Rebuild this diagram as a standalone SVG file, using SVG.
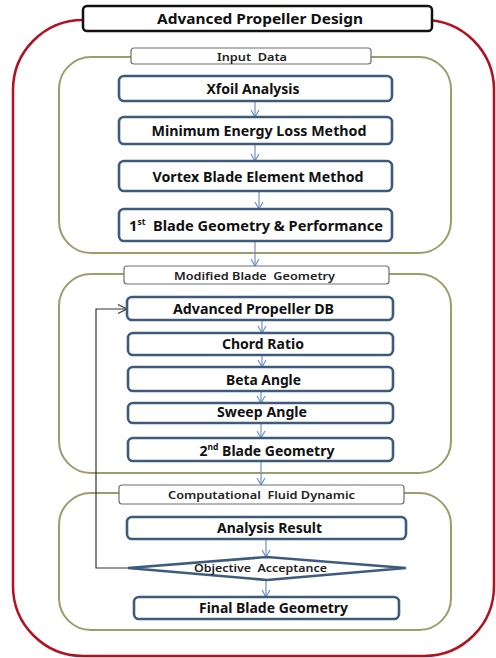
<svg xmlns="http://www.w3.org/2000/svg" width="496" height="658" viewBox="0 0 496 658">
<defs>
<style>
.outer{fill:none;stroke:#b3111f;stroke-width:2.5}
.group{fill:none;stroke:#9d9d6b;stroke-width:2}
.lbl{fill:#fff;stroke:#6e6e6e;stroke-width:1.2}
.title{fill:#fff;stroke:#111;stroke-width:2.5}
.node{fill:#fff;stroke:#3e5b7d;stroke-width:2.6}
.t{font-family:"Noto Sans","Liberation Sans",sans-serif;font-weight:bold;fill:#111;text-anchor:middle;dominant-baseline:central}
.tl{font-family:"Noto Sans","Liberation Sans",sans-serif;font-weight:600;fill:#222;text-anchor:middle;dominant-baseline:central;white-space:pre}
.arr{fill:none;stroke:#6f93c0;stroke-width:1.2}
.fb{fill:none;stroke:#333;stroke-width:1.2}
</style>
<marker id="ah" markerWidth="10" markerHeight="10" refX="8" refY="5" orient="auto" markerUnits="userSpaceOnUse">
<path d="M1,1 L8,5 L1,9" fill="none" stroke="#6f93c0" stroke-width="1.2"/>
</marker>
<marker id="ahk" markerWidth="12" markerHeight="12" refX="10" refY="6" orient="auto" markerUnits="userSpaceOnUse">
<path d="M1,1.5 L10,6 L1,10.5" fill="none" stroke="#333" stroke-width="1.2"/>
</marker>
</defs>

<g id="frame">
<rect class="outer" x="13" y="20" width="481" height="636" rx="70" ry="70"/>
</g>

<g id="groups">
<rect class="group" x="59" y="57" width="392" height="196" rx="32" ry="32"/>
<rect class="group" x="59" y="274" width="392" height="199" rx="32" ry="32"/>
<rect class="group" x="59" y="493" width="392" height="137" rx="32" ry="32"/>
</g>

<g id="connectors">
<line class="arr" x1="255" y1="101" x2="255" y2="117" marker-end="url(#ah)"/>
<line class="arr" x1="255" y1="144" x2="255" y2="161" marker-end="url(#ah)"/>
<line class="arr" x1="259" y1="191" x2="259" y2="209" marker-end="url(#ah)"/>
<line class="arr" x1="255" y1="241" x2="255" y2="266" marker-end="url(#ah)"/>
<line class="arr" x1="262" y1="320" x2="262" y2="333" marker-end="url(#ah)"/>
<line class="arr" x1="262" y1="355" x2="262" y2="367" marker-end="url(#ah)"/>
<line class="arr" x1="261" y1="391" x2="261" y2="403" marker-end="url(#ah)"/>
<line class="arr" x1="261" y1="423" x2="261" y2="438" marker-end="url(#ah)"/>
<line class="arr" x1="261" y1="461" x2="261" y2="485" marker-end="url(#ah)"/>
<line class="arr" x1="266" y1="539" x2="266" y2="557" marker-end="url(#ah)"/>
<line class="arr" x1="266" y1="580" x2="266" y2="597" marker-end="url(#ah)"/>
<path class="fb" d="M128,568 H96 V309 H127" marker-end="url(#ahk)"/>
</g>

<g id="title">
<rect class="title" x="83" y="6" width="349" height="25" rx="4"/>
<text class="t" x="260" y="18" font-size="14" textLength="206" lengthAdjust="spacingAndGlyphs">Advanced Propeller Design</text>
</g>

<g id="input-data">
<rect class="lbl" x="131" y="48" width="240" height="16" rx="3"/>
<text class="tl" x="252" y="56.5" font-size="11" textLength="70" lengthAdjust="spacingAndGlyphs" xml:space="preserve">Input  Data</text>
</g>

<g id="xfoil">
<rect class="node" x="119" y="76" width="273" height="25" rx="5"/>
<text class="t" x="253" y="89" font-size="13.5" textLength="93" lengthAdjust="spacingAndGlyphs">Xfoil Analysis</text>
</g>

<g id="mel">
<rect class="node" x="119" y="117" width="273" height="27" rx="5"/>
<text class="t" x="259" y="131" font-size="13.5" textLength="215" lengthAdjust="spacingAndGlyphs">Minimum Energy Loss Method</text>
</g>

<g id="vbem">
<rect class="node" x="119" y="161" width="273" height="30" rx="5"/>
<text class="t" x="258" y="177" font-size="13.5" textLength="211" lengthAdjust="spacingAndGlyphs">Vortex Blade Element Method</text>
</g>

<g id="blade1">
<rect class="node" x="119" y="209" width="273" height="32" rx="5"/>
<text class="t" x="256" y="225" font-size="14.6" xml:space="preserve"><tspan>1</tspan><tspan font-size="8.5" dy="-4">st</tspan><tspan dy="4">  Blade Geometry &amp; Performance</tspan></text>
</g>

<g id="modified">
<rect class="lbl" x="124" y="266" width="265" height="18" rx="3"/>
<text class="tl" x="254.5" y="275.5" font-size="11" textLength="161" lengthAdjust="spacingAndGlyphs" xml:space="preserve">Modified Blade  Geometry</text>
</g>

<g id="apdb">
<rect class="node" x="127" y="297" width="266" height="23" rx="5"/>
<text class="t" x="253.5" y="308.5" font-size="13.5" textLength="161" lengthAdjust="spacingAndGlyphs">Advanced Propeller DB</text>
</g>

<g id="chord">
<rect class="node" x="128" y="333" width="265" height="22" rx="5"/>
<text class="t" x="263" y="344" font-size="13.5" textLength="82" lengthAdjust="spacingAndGlyphs">Chord Ratio</text>
</g>

<g id="beta">
<rect class="node" x="128" y="367" width="265" height="24" rx="5"/>
<text class="t" x="263.5" y="380" font-size="13.5" textLength="75" lengthAdjust="spacingAndGlyphs">Beta Angle</text>
</g>

<g id="sweep">
<rect class="node" x="128" y="403" width="265" height="20" rx="5"/>
<text class="t" x="262" y="412" font-size="13.5" textLength="90" lengthAdjust="spacingAndGlyphs">Sweep Angle</text>
</g>

<g id="blade2">
<rect class="node" x="128" y="438" width="265" height="23" rx="5"/>
<text class="t" x="267" y="449.5" font-size="14"><tspan>2</tspan><tspan font-size="8.5" dy="-4">nd</tspan><tspan dy="4"> Blade Geometry</tspan></text>
</g>

<g id="cfd">
<rect class="lbl" x="119" y="485" width="285" height="19" rx="3"/>
<text class="tl" x="261.5" y="494.5" font-size="11" textLength="187" lengthAdjust="spacingAndGlyphs" xml:space="preserve">Computational  Fluid Dynamic</text>
</g>

<g id="analysis">
<rect class="node" x="127" y="517" width="279" height="22" rx="5"/>
<text class="t" x="269.5" y="527.5" font-size="13.5" textLength="105" lengthAdjust="spacingAndGlyphs">Analysis Result</text>
</g>

<g id="acceptance">
<polygon class="node" points="128,568 267,557 406,568 267,580"/>
<text class="tl" x="260.5" y="567.5" font-size="11.5" textLength="133" lengthAdjust="spacingAndGlyphs" xml:space="preserve">Objective  Acceptance</text>
</g>

<g id="final">
<rect class="node" x="134" y="597" width="265" height="22" rx="5"/>
<text class="t" x="273.5" y="607.5" font-size="13.5" textLength="149" lengthAdjust="spacingAndGlyphs">Final Blade Geometry</text>
</g>
</svg>
